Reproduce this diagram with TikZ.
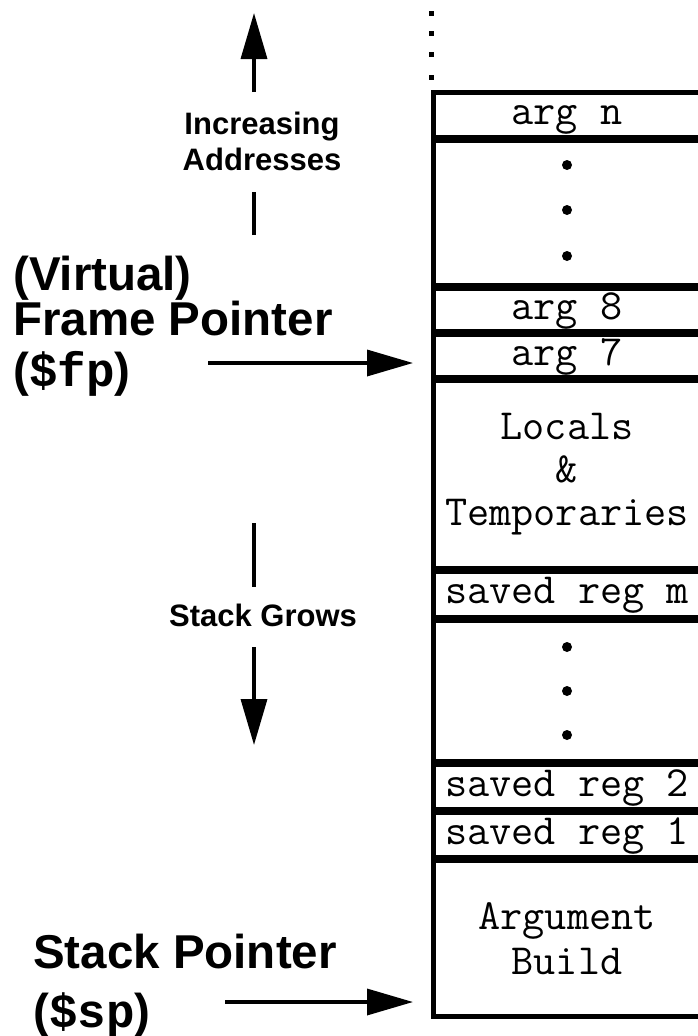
\documentclass[tikz,border=0pt]{standalone}
\usepackage{fontspec}
\setmainfont{Liberation Sans}
\newfontfamily\monob{Liberation Mono}
\usetikzlibrary{arrows.meta}
\begin{document}
\begin{tikzpicture}[x=1pt,y=-1pt,
  cell/.style={draw, line width=5pt, minimum width=268pt, inner sep=0pt,
    font=\ttfamily\fontsize{43}{43}\selectfont, align=center},
  oneline/.style={text height=18.5pt, text depth=0pt},
  biglbl/.style={font=\bfseries\fontsize{47.5}{45}\selectfont, align=left, inner sep=0pt},
  smalllbl/.style={font=\bfseries\fontsize{31}{36}\selectfont, align=center, inner sep=0pt},
  arr/.style={line width=3.5pt, -{Triangle[length=46pt,width=26pt]}},
  ln/.style={line width=3.5pt},
  dot/.style={fill=black}]
\useasboundingbox (0,0) rectangle (697,1036);

% stack cells
\node[cell, oneline, minimum height=45pt]  (argn)   at (567,115)    {arg n};
\node[cell, minimum height=145pt] (dotsA)  at (567,213)    {};
\node[cell, oneline, minimum height=43pt]  (argE)   at (567,310)    {arg 8};
\node[cell, oneline, minimum height=43pt]  (argS)   at (567,356)    {arg 7};
\node[cell, minimum height=188pt] (locals) at (567,474.5)  {Locals\\\&\\Temporaries};
\node[cell, oneline, minimum height=46pt]  (regm)   at (567,594.5)  {saved reg m};
\node[cell, minimum height=141pt] (dotsB)  at (567,691)    {};
\node[cell, oneline, minimum height=45pt]  (regB)   at (567,787)    {saved reg 2};
\node[cell, oneline, minimum height=45pt]  (regA)   at (567,835)    {saved reg 1};
\node[cell, minimum height=155.5pt] (argb) at (567,938.25) {Argument\\[2pt]Build};

\foreach \d in {-48,-3,43} \fill[dot] (dotsA.center) ++(0,\d) circle (5pt);
\foreach \d in {-44,0,44} \fill[dot] (dotsB.center) ++(0,\d) circle (5pt);

% continuation marks above the stack
\foreach \y in {13,33,54,77} \fill[dot] (428.5,\y-2.5) rectangle ++(5,5);

% increasing addresses
\node[smalllbl] (inc) at (262,141) {Increasing\\Addresses};
\coordinate (incbot) at (254,235);
\coordinate (inclo) at (254,192);
\coordinate (inchi) at (254,92);
\coordinate (inctop) at (254,13);
\draw[ln] (incbot) -- (inclo);
\draw[arr] (inchi) -- (inctop);

% stack grows
\node[smalllbl] (grow) at (263,615) {Stack Grows};
\coordinate (growtop) at (254,523);
\coordinate (growhi) at (254,587);
\coordinate (growlo) at (254,647);
\coordinate (growtip) at (254,745);
\draw[ln] (growtop) -- (growhi);
\draw[arr] (growlo) -- (growtip);

% frame pointer
\node[biglbl, anchor=base west] (fp) at (13,386) {(Virtual)\\Frame Pointer\\[6pt]({\monob\$fp})};
\coordinate (fpfrom) at (208,363);
\coordinate (fpto) at (413,363);
\draw[arr] (fpfrom) -- (fpto);

% stack pointer
\node[biglbl, anchor=base west] (sp) at (33,1027) {Stack Pointer\\[14pt]({\monob\$sp})};
\coordinate (spfrom) at (225,1002);
\coordinate (spto) at (413,1002);
\draw[arr] (spfrom) -- (spto);
\end{tikzpicture}
\end{document}
